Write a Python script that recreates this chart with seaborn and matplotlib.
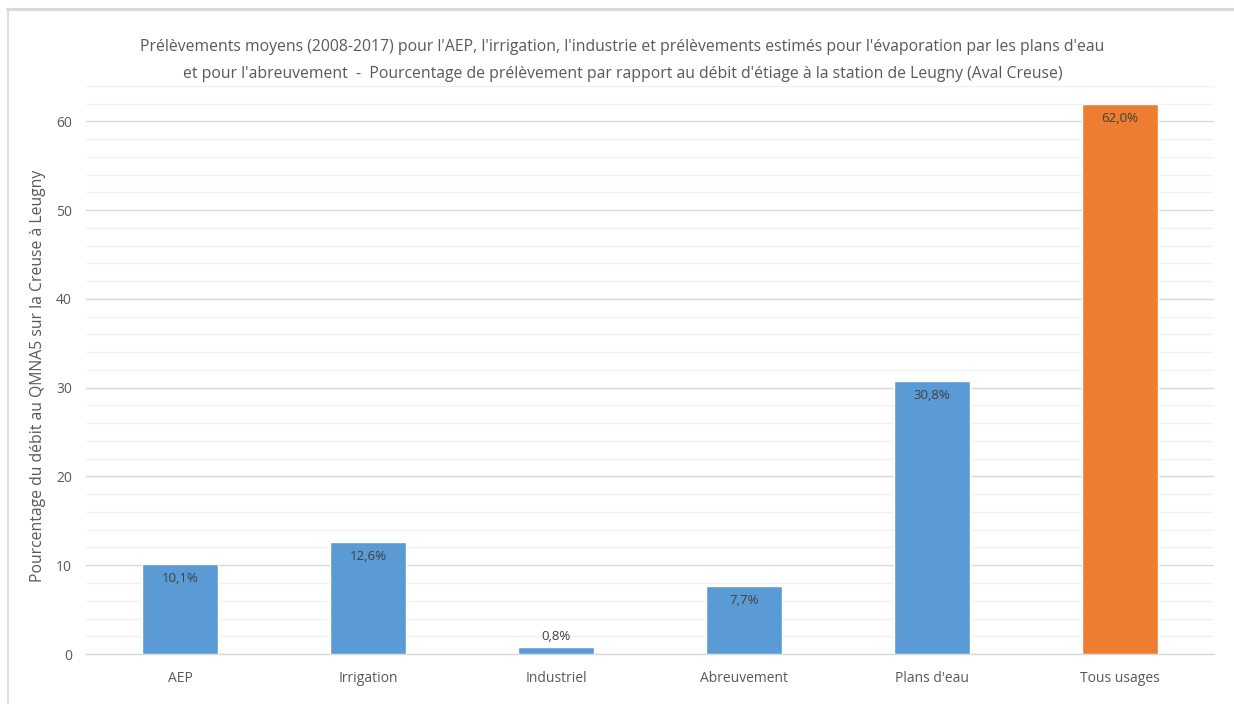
import matplotlib
matplotlib.use("Agg")
import matplotlib.pyplot as plt
from matplotlib.ticker import MultipleLocator
import seaborn as sns
import pandas as pd

categories = ["AEP", "Irrigation", "Industriel", "Abreuvement", "Plans d'eau", "Tous usages"]
values = [10.1, 12.6, 0.8, 7.7, 30.8, 62.0]
value_labels = ["10,1%", "12,6%", "0,8%", "7,7%", "30,8%", "62,0%"]
bar_colors = ["#5B9BD5", "#5B9BD5", "#5B9BD5", "#5B9BD5", "#5B9BD5", "#ED7D31"]
yticks = [0, 10, 20, 30, 40, 50, 60]

title = ("Prélèvements moyens (2008-2017) pour l'AEP, l'irrigation, l'industrie et prélèvements estimés pour l'évaporation par les plans d'eau\n"
         "et pour l'abreuvement  -  Pourcentage de prélèvement par rapport au débit d'étiage à la station de Leugny (Aval Creuse)")
ylabel = "Pourcentage du débit au QMNA5 sur la Creuse à Leugny"

sns.set_theme(style="white")
plt.rcParams["font.family"] = ["Open Sans", "DejaVu Sans"]
text_color = "#595959"

df = pd.DataFrame({"cat": categories, "val": values})

fig = plt.figure(figsize=(12.34, 7.04), dpi=100)
ax = fig.add_axes([0.0697, 0.071, 0.9141, 0.807])

sns.barplot(data=df, x="cat", y="val", hue="cat", palette=bar_colors, legend=False,
            width=0.4, saturation=1, ax=ax, zorder=3)

ax.set_xlim(-0.5, len(categories) - 0.5)
ax.set_ylim(0, 64)
ax.set_yticks(yticks)
ax.yaxis.set_minor_locator(MultipleLocator(2))
ax.grid(which="major", axis="y", color="#D9D9D9", linewidth=1.0, zorder=0)
ax.grid(which="minor", axis="y", color="#F2F2F2", linewidth=1.0, zorder=0)
ax.grid(axis="x", visible=False)
for s in ["top", "right", "left"]:
    ax.spines[s].set_visible(False)
ax.spines["bottom"].set_color("#D9D9D9")
ax.spines["bottom"].set_linewidth(1.0)
ax.tick_params(axis="both", which="both", length=0, colors=text_color, labelsize=10)
ax.tick_params(axis="y", pad=10)
ax.tick_params(axis="x", pad=12)
ax.set_xlabel("")
ax.set_ylabel(ylabel, color=text_color, fontsize=11.3, labelpad=7)
ax.yaxis.label.set_y(0.489)

for i, (v, lab) in enumerate(zip(values, value_labels)):
    if v < 3:
        ax.text(i, v + 0.4, lab, ha="center", va="bottom", color="#404040", fontsize=9.5, zorder=4)
    else:
        ax.text(i, v - 0.9, lab, ha="center", va="top", color="#404040", fontsize=9.5, zorder=4)

fig.text(0.5045, 0.9135, title, ha="center", va="center", color=text_color,
         fontsize=11.3, linespacing=1.9)

# chart-area border along the top and left edges
fig.add_artist(plt.Line2D([0.006, 1.0], [0.987, 0.987], color="#D9D9D9", linewidth=2.2,
                          transform=fig.transFigure))
fig.add_artist(plt.Line2D([0.0065, 0.0065], [0.0, 0.987], color="#D9D9D9", linewidth=1.2,
                          transform=fig.transFigure))

fig.savefig("out.png", dpi=100, facecolor="white")
